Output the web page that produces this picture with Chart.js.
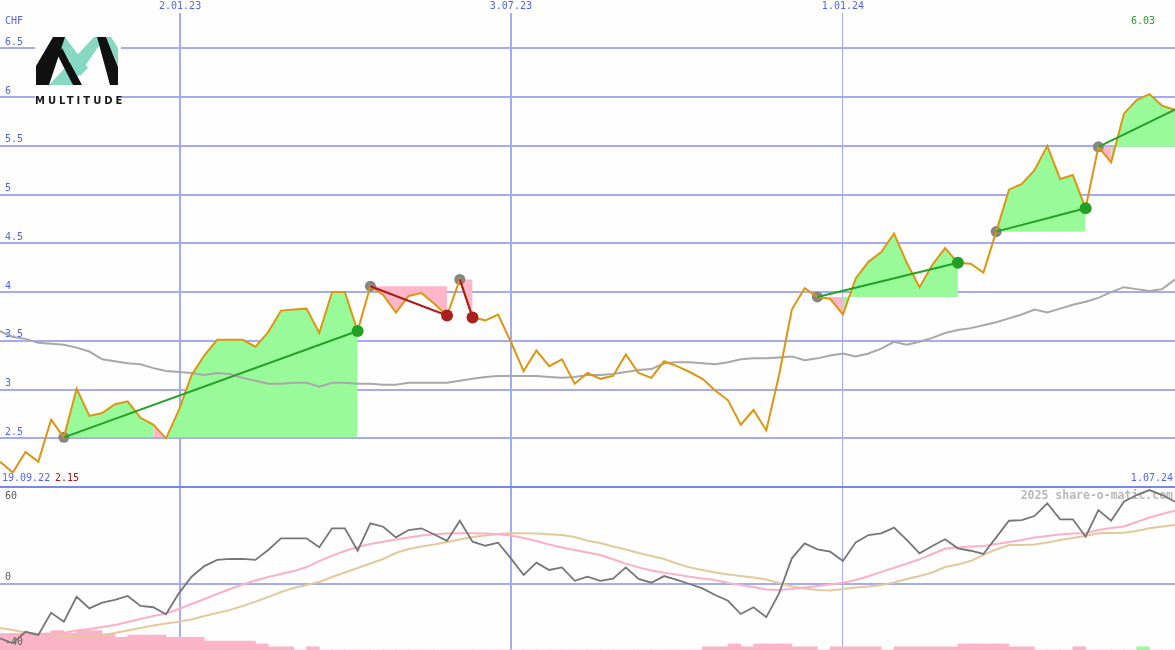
<!DOCTYPE html>
<html>
<head>
<meta charset="utf-8">
<script src="https://cdn.jsdelivr.net/npm/chart.js@4.4.1/dist/chart.umd.min.js"></script>
<style>
  html, body { margin: 0; padding: 0; background: #fdfefd; }
  #wrap { position: relative; width: 1175px; height: 650px; }
  #logo { position: absolute; left: 0; top: 0; }
</style>
</head>
<body>
<div id="wrap">
  <canvas id="chart" width="1175" height="650"></canvas>
  <svg id="logo" width="130" height="115">
    <rect x="35" y="32" width="86" height="76" fill="#fdfefd"/>
    <polygon points="59,45 65,37 88,68 80,76" fill="#86d8c3"/>
    <polygon points="49,85 72,85 105,37 94,37" fill="#86d8c3"/>
    <polygon points="106,37 111,37 118,48 118,66" fill="#86d8c3"/>
    <polygon points="36,85 36,66 53,37 65,37 49,85" fill="#111"/>
    <polygon points="57,54 62,48 82,85 73,85" fill="#111"/>
    <polygon points="97,37 106,37 118,67 118,85 110,85" fill="#111"/>
    <text x="35" y="104" font-family="DejaVu Sans" font-weight="bold" font-size="10" letter-spacing="3" fill="#1a1a1a">MULTITUDE</text>
  </svg>
</div>
<script>
// weekly closes, CHF
const price = [
  2.26, 2.15, 2.36, 2.26, 2.69, 2.51, 3.01, 2.73, 2.76, 2.85,
  2.88, 2.71, 2.64, 2.50, 2.79, 3.15, 3.35, 3.51, 3.51, 3.51,
  3.44, 3.59, 3.81, 3.82, 3.83, 3.58, 4.00, 4.00, 3.60, 4.06,
  3.97, 3.79, 3.96, 3.99, 3.88, 3.76, 4.13, 3.74, 3.71, 3.77,
  3.49, 3.19, 3.40, 3.24, 3.31, 3.06, 3.17, 3.11, 3.14, 3.36,
  3.17, 3.12, 3.29, 3.24, 3.18, 3.11, 2.99, 2.89, 2.64, 2.79,
  2.58, 3.15, 3.82, 4.04, 3.95, 3.93, 3.77, 4.14, 4.31, 4.41,
  4.60, 4.30, 4.05, 4.28, 4.45, 4.30, 4.29, 4.20, 4.62, 5.05,
  5.11, 5.25, 5.50, 5.16, 5.20, 4.86, 5.49, 5.33, 5.83, 5.97,
  6.03, 5.91, 5.87
];
// moving average (grey)
const avg = [
  3.60, 3.54, 3.52, 3.48, 3.47, 3.46, 3.43, 3.39, 3.31, 3.29,
  3.27, 3.26, 3.22, 3.19, 3.18, 3.17, 3.15, 3.17, 3.16, 3.12,
  3.09, 3.06, 3.06, 3.07, 3.07, 3.03, 3.07, 3.07, 3.06, 3.06,
  3.05, 3.05, 3.07, 3.07, 3.07, 3.07, 3.09, 3.11, 3.13, 3.14,
  3.14, 3.14, 3.14, 3.13, 3.12, 3.13, 3.15, 3.15, 3.16, 3.18,
  3.20, 3.21, 3.27, 3.28, 3.28, 3.27, 3.26, 3.28, 3.31, 3.32,
  3.32, 3.33, 3.34, 3.30, 3.32, 3.35, 3.37, 3.34, 3.37, 3.42,
  3.49, 3.46, 3.49, 3.53, 3.58, 3.61, 3.63, 3.66, 3.69, 3.73,
  3.77, 3.82, 3.79, 3.83, 3.87, 3.90, 3.94, 4.00, 4.05, 4.03,
  4.01, 4.03, 4.13
];
// oscillator (lower panel)
const osc = [
  -34.0, -37.0, -29.9, -31.9, -18.1, -23.7, -8.2, -15.4, -11.9, -10.2,
  -7.7, -13.9, -14.7, -19.1, -6.1, 4.2, 10.8, 14.6, 15.2, 15.2,
  14.6, 20.8, 28.0, 28.0, 28.0, 22.4, 34.2, 34.2, 20.3, 37.3,
  35.2, 28.6, 33.1, 34.2, 30.4, 26.5, 38.9, 25.9, 23.4, 25.3,
  15.6, 5.3, 12.9, 8.4, 10.0, 1.7, 4.2, 1.7, 3.0, 10.0,
  2.8, 0.5, 4.6, 2.2, -0.3, -3.0, -7.1, -10.7, -18.9, -14.7,
  -20.9, -6.1, 15.6, 24.9, 21.2, 19.7, 13.9, 25.5, 30.0, 31.1,
  34.6, 27.0, 18.7, 23.2, 27.4, 21.8, 20.3, 18.3, 28.6, 38.9,
  39.3, 41.8, 49.7, 39.8, 39.8, 29.0, 45.5, 38.9, 50.7, 54.8,
  57.9, 54.8, 50.7
];
const oscFast = [
  -32.5, -31.9, -31.9, -31.3, -30.9, -30.5, -29.1, -28.2, -27.0, -25.7,
  -23.9, -22.0, -20.1, -18.5, -15.8, -12.7, -9.6, -6.5, -3.4, -0.6,
  1.9, 4.0, 5.9, 7.7, 10.2, 13.9, 17.3, 20.1, 22.6, 24.5,
  25.9, 27.3, 28.5, 29.7, 30.5, 31.0, 31.1, 31.1, 31.0, 30.5,
  29.7, 28.2, 26.3, 24.2, 22.3, 20.8, 19.2, 17.7, 15.0, 12.3,
  10.0, 8.1, 6.7, 5.5, 4.2, 3.1, 2.2, 0.3, -0.9, -2.2,
  -3.7, -4.0, -3.4, -2.5, -1.5, -0.6, 0.5, 2.2, 4.5, 7.2,
  9.8, 12.3, 15.0, 18.3, 21.7, 22.3, 22.9, 23.2, 24.5, 25.7,
  27.0, 28.5, 29.4, 30.4, 31.0, 31.1, 33.1, 34.4, 35.3, 38.1,
  40.9, 43.1, 45.1
];
const oscSlow = [
  -27.6, -28.8, -30.4, -31.3, -31.9, -32.5, -32.8, -33.5, -31.9, -30.7,
  -29.1, -27.6, -26.0, -24.8, -23.7, -22.3, -20.1, -18.3, -16.4, -13.9,
  -11.2, -8.4, -5.3, -2.8, -0.9, 0.9, 4.0, 6.8, 9.6, 12.4,
  15.2, 18.9, 21.4, 22.9, 24.2, 25.7, 27.3, 28.8, 29.7, 30.7,
  31.1, 31.1, 31.0, 30.5, 30.0, 28.8, 26.5, 25.1, 22.9, 21.1,
  18.9, 17.0, 15.2, 12.4, 10.0, 8.4, 6.8, 5.6, 4.6, 3.7,
  2.5, 0.3, -1.9, -3.1, -4.0, -4.3, -3.4, -2.5, -1.9, -0.9,
  0.6, 2.8, 4.6, 6.8, 10.2, 11.8, 13.9, 17.7, 21.1, 23.9,
  23.9, 24.2, 25.4, 27.0, 28.2, 29.4, 31.1, 31.3, 31.5, 32.5,
  34.2, 35.3, 36.2
];
// small bars along the bottom, one per week
const weekBars = [
  5.2, 5.2, 5.2, 5.2, 6.1, 5.3, 6.1, 6.1, 5.0, 4.0,
  4.7, 4.7, 4.7, 4.0, 4.0, 4.0, 2.8, 2.8, 2.8, 2.8,
  1.9, 1.0, 1.0, 0, 1.0, 0, 0, 0, 0, 0,
  0, 0, 0, 0, 0, 0, 0, 0, 0, 0,
  0, 0, 0, 0, 0, 0, 0, 0, 0, 0,
  0, 0, 0, 0, 0, 1.0, 1.0, 1.9, 1.0, 1.9,
  1.9, 1.9, 1.0, 1.0, 0, 1.0, 1.0, 1.0, 1.0, 0,
  1.0, 1.0, 1.0, 1.0, 1.0, 1.9, 1.9, 1.9, 1.9, 1.0,
  1.0, 0, 0, 0, 1.0, 0, 0, 0, 0, 1.0,
  0, 0
];
const weekBarsUp = [89];

// signals: entry week, exit week (last one still open)
const tradeEntry = [5, 29, 36, 64, 78, 86];
const tradeExit = [28, 35, 37, 75, 85, 92];
const tradeOpen = [false, false, false, false, false, true];

const xTickPos = [14.1, 40, 66];
const xTickLabels = ['2.01.23', '3.07.23', '1.01.24'];
const priceGrid = [2, 2.5, 3, 3.5, 4, 4.5, 5, 5.5, 6, 6.5];
const oscLabels = [60, 0, -40];
const firstDate = '19.09.22';
const lastDate = '1.07.24';

const BLUE = '#5064ee';
const GRID = '#a3abf3';
const FILL_GREEN = '#98fa98';
const FILL_PINK = '#ffb6c8';
const MONO = '"DejaVu Sans Mono", monospace';

const pts = arr => arr.map((v, i) => ({x: i, y: v}));

const fillSets = tradeEntry.map((e, k) => {
  const base = price[e];
  const seg = [];
  for (let i = e; i <= tradeExit[k]; i++) seg.push({x: i, y: price[i]});
  return {
    data: seg, yAxisID: 'y', order: 20,
    borderWidth: 0, borderColor: 'transparent', pointRadius: 0,
    backgroundColor: FILL_GREEN,
    fill: {value: base},
    segment: {backgroundColor: c => c.p1.parsed.y < base ? FILL_PINK : FILL_GREEN}
  };
});

const tradeLines = tradeEntry.map((e, k) => {
  const x = tradeExit[k];
  return {
    data: [{x: e, y: price[e]}, {x: x, y: price[x]}], yAxisID: 'y', order: 5,
    borderColor: price[x] >= price[e] ? '#24a024' : '#a81c1c', borderWidth: 2, pointRadius: 0
  };
});

const exits = tradeExit.filter((x, k) => !tradeOpen[k]);
const exitColors = tradeExit.filter((x, k) => !tradeOpen[k])
  .map((x, k) => price[x] >= price[tradeEntry[k]] ? '#22a022' : '#a82020');

const noEdgePadding = s => { s.width = 0; s.paddingTop = 0; s.paddingBottom = 0; };

const textPlugin = {
  id: 'texts',
  beforeDatasetsDraw(chart) {
    const {ctx} = chart;
    ctx.save();
    ctx.textBaseline = 'middle';
    ctx.font = '10px ' + MONO;
    ctx.fillStyle = BLUE;
    ctx.textAlign = 'left';
    ctx.fillText('CHF', 5, 21);
    ctx.fillText(firstDate, 2, 478);
    ctx.fillStyle = '#a01818';
    ctx.fillText(Math.min(...price).toFixed(2), 55, 478);
    ctx.textAlign = 'right';
    ctx.fillStyle = BLUE;
    ctx.fillText(lastDate, 1173, 478);
    ctx.fillStyle = '#22a022';
    ctx.fillText(Math.max(...price).toFixed(2), 1155, 21);
    ctx.font = 'bold 11.5px ' + MONO;
    ctx.fillStyle = '#b8b8b8';
    ctx.fillText('2025 share-o-matic.com', 1173, 496);
    ctx.restore();
  },
  // oscillator labels go over the bars but under the lines
  afterDatasetDraw(chart, args) {
    if (args.meta.type !== 'bar') return;
    const {ctx, scales} = chart;
    ctx.save();
    ctx.textBaseline = 'middle';
    ctx.textAlign = 'left';
    ctx.font = '10px ' + MONO;
    ctx.fillStyle = '#5a5a5a';
    oscLabels.forEach((v, i) => {
      const py = scales.y2.getPixelForValue(v);
      ctx.fillText(String(v), 5, i === 0 ? py + 10 : py - 6);
    });
    ctx.restore();
  }
};

new Chart(document.getElementById('chart'), {
  type: 'line',
  data: {
    datasets: [
      ...fillSets,
      {data: pts(avg), yAxisID: 'y', order: 8, borderColor: '#a8a8a8', borderWidth: 2, pointRadius: 0},
      {data: tradeEntry.map(i => ({x: i, y: price[i]})), yAxisID: 'y', order: 7, showLine: false,
       pointRadius: 5.5, pointBorderWidth: 0, pointBackgroundColor: '#858585'},
      {data: pts(price), yAxisID: 'y', order: 6, borderColor: '#dc9613', borderWidth: 2, pointRadius: 0},
      ...tradeLines,
      {data: exits.map(i => ({x: i, y: price[i]})), yAxisID: 'y', order: 4, showLine: false,
       pointRadius: 6, pointBorderWidth: 0, pointBackgroundColor: exitColors},
      {type: 'bar', data: weekBars.map((v, i) => ({x: i + 0.5, y: v})), yAxisID: 'yv', order: 30,
       backgroundColor: weekBars.map((v, i) => weekBarsUp.includes(i) ? '#98fa98' : '#fbb4c8'),
       barPercentage: 1, categoryPercentage: 1, grouped: false},
      {data: pts(oscSlow), yAxisID: 'y2', order: 13, borderColor: '#e4c99c', borderWidth: 2, pointRadius: 0},
      {data: pts(oscFast), yAxisID: 'y2', order: 12, borderColor: '#fcb0c8', borderWidth: 2, pointRadius: 0},
      {data: pts(osc), yAxisID: 'y2', order: 11, borderColor: '#767676', borderWidth: 1.8, pointRadius: 0}
    ]
  },
  options: {
    responsive: false,
    animation: false,
    devicePixelRatio: 1,
    layout: {padding: 0, autoPadding: false},
    elements: {line: {tension: 0}},
    plugins: {legend: {display: false}, tooltip: {enabled: false}},
    scales: {
      x: {
        type: 'linear', position: 'top', min: 0, max: 92, offset: false,
        afterBuildTicks: s => { s.ticks = xTickPos.map(v => ({value: v})); },
        afterFit: s => { s.height = 13; s.paddingLeft = 0; s.paddingRight = 0; },
        ticks: {autoSkip: false, maxRotation: 0, padding: 1, color: BLUE,
                font: {family: MONO, size: 10}, callback: (v, i) => xTickLabels[i]},
        grid: {color: GRID, lineWidth: c => [2, 2, 1][c.index], drawTicks: false, offset: false},
        border: {display: false}
      },
      y: {
        type: 'linear', position: 'left', min: 0.329, max: 6.862,
        afterBuildTicks: s => { s.ticks = priceGrid.map(v => ({value: v})); },
        afterFit: noEdgePadding,
        ticks: {mirror: true, padding: 5, labelOffset: -6, color: BLUE,
                font: {family: MONO, size: 10}, callback: v => v === 2 ? '' : String(v)},
        grid: {color: c => c.tick && c.tick.value === 2 ? '#7786f0' : GRID, lineWidth: 2, drawTicks: false},
        border: {display: false}
      },
      y2: {
        type: 'linear', position: 'left', min: -41.2, max: 353.5,
        afterBuildTicks: s => { s.ticks = [{value: 0}]; },
        afterFit: noEdgePadding,
        ticks: {display: false},
        grid: {color: GRID, lineWidth: 2, drawTicks: false},
        border: {display: false}
      },
      yv: {type: 'linear', display: false, min: 0, max: 200}
    }
  },
  plugins: [textPlugin]
});
</script>
</body>
</html>
